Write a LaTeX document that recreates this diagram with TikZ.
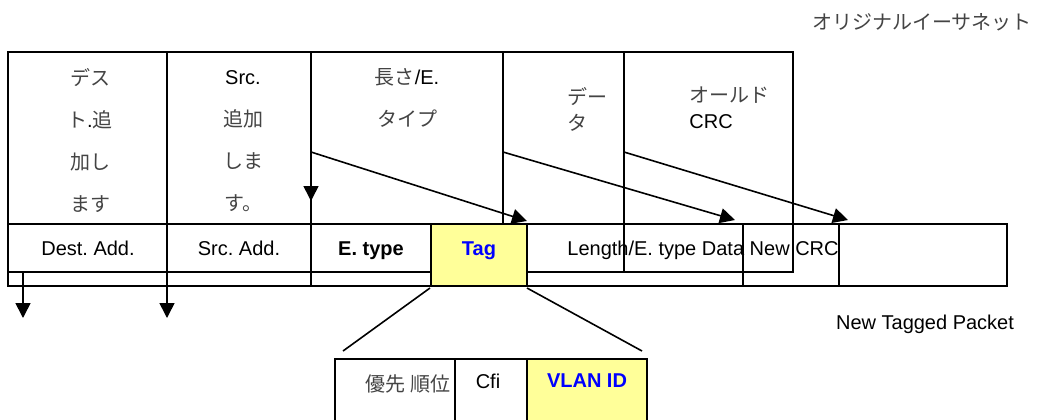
\documentclass[tikz,border=0pt]{standalone}
\usepackage{fontspec}
\setmainfont{Liberation Sans}
\newfontfamily\jpfont{Noto Sans CJK JP}
\usetikzlibrary{arrows.meta}
\definecolor{tagyellow}{HTML}{FFFF99}
\definecolor{tagblue}{HTML}{0000FF}
\definecolor{jpgray}{HTML}{444444}
\newcommand{\jtext}[1]{{\jpfont\color{jpgray}#1}}
\frenchspacing
\begin{document}
\begin{tikzpicture}[x=0.5pt,y=-0.5pt,
  grid/.style={line width=1pt,line cap=rect},
  flow/.style={line width=0.8pt,-{Triangle[length=7.5pt,width=7.5pt]}},
  fan/.style={line width=0.8pt},
  lbl/.style={inner sep=0pt,font=\fontsize{10}{12}\selectfont},
  row/.style={lbl,anchor=base},
  tall/.style={lbl,align=center,font=\fontsize{10}{21}\selectfont},
  short/.style={lbl,align=left,font=\fontsize{10}{13}\selectfont},
  bluebold/.style={row,text=tagblue,font=\fontsize{10}{12}\selectfont\bfseries}]
\useasboundingbox (0,0) rectangle (1043,419);

% yellow cells
\fill[tagyellow] (431,224) rectangle (527,286);
\fill[tagyellow] (527,359) rectangle (647,430);

% original Ethernet frame
\draw[grid] (8,52) rectangle (793,272);
\draw[grid] (167,52) -- (167,286);
\draw[grid] (311,52) -- (311,286);
\draw[grid] (503,52) -- (503,224);
\draw[grid] (624,52) -- (624,272);

% new tagged packet
\draw[grid] (8,224) rectangle (1007,286);
\draw[grid] (743,224) -- (743,286);
\draw[grid] (839,224) -- (839,286);
\fill[tagyellow] (432,225) rectangle (526,285);
\draw[grid] (431,224) rectangle (527,286);

% tag detail
\draw[grid] (335,359) -- (335,430);
\draw[grid] (335,359) -- (647,359) -- (647,430);
\draw[grid] (455,359) -- (455,430);
\draw[grid] (527,359) -- (527,430);

% field labels of the original frame
\node[tall] (dst) at (90,141) {\jtext{デス}\\\jtext{ト}.\jtext{追}\\\jtext{加し}\\\jtext{ます}};
\node[tall] (src) at (243,141) {Src.\\\jtext{追加}\\\jtext{しま}\\\jtext{す。}};
\node[tall] (len) at (407,98) {\jtext{長さ}/E.\\\jtext{タイプ}};
\node[short,anchor=west] (dat) at (567,109) {\jtext{デー}\\\jtext{タ}};
\node[short,anchor=west] (crc) at (689,108) {\jtext{オールド}\\CRC};
\node[row] (title) at (922,29) {\jtext{オリジナルイーサネット}};

% field labels of the tagged packet
\node[row] (ndst) at (88,255) {Dest. Add.};
\node[row] (nsrc) at (239,255) {Src. Add.};
\node[row,font=\fontsize{10}{12}\selectfont\bfseries] (ntyp) at (371,255) {E. type};
\node[bluebold] (ntag) at (479,255) {Tag};
\node[row,anchor=base west] (nrest) at (567,255) {Length/E. type Data New CRC};
\node[row] (caption) at (925,329) {New Tagged Packet};

% tag sub-fields
\node[row] (prio) at (408,391) {\jtext{優先 順位}};
\node[row] (cfi) at (488,388) {Cfi};
\node[bluebold] (vid) at (587,387) {VLAN ID};

% connector end points
\coordinate (lenA) at (311,152);
\coordinate (datA) at (503,152);
\coordinate (crcA) at (624,152);
\coordinate (lenB) at (527,221);
\coordinate (datB) at (735,220);
\coordinate (crcB) at (848,220);
\coordinate (drop) at (311,201);
\coordinate (dA) at (23,272);
\coordinate (dB) at (23,318);
\coordinate (sA) at (167,272);
\coordinate (sB) at (167,318);
\coordinate (tagL) at (430,288);
\coordinate (tagR) at (527,288);
\coordinate (subL) at (343,351);
\coordinate (subR) at (642,351);

% field moves
\draw[flow] (lenA) -- (lenB);
\draw[flow] (datA) -- (datB);
\draw[flow] (crcA) -- (crcB);
\draw[flow] (lenA) -- (drop);
\draw[flow] (dA) -- (dB);
\draw[flow] (sA) -- (sB);

% tag expansion
\draw[fan] (tagL) -- (subL);
\draw[fan] (tagR) -- (subR);
\end{tikzpicture}
\end{document}
